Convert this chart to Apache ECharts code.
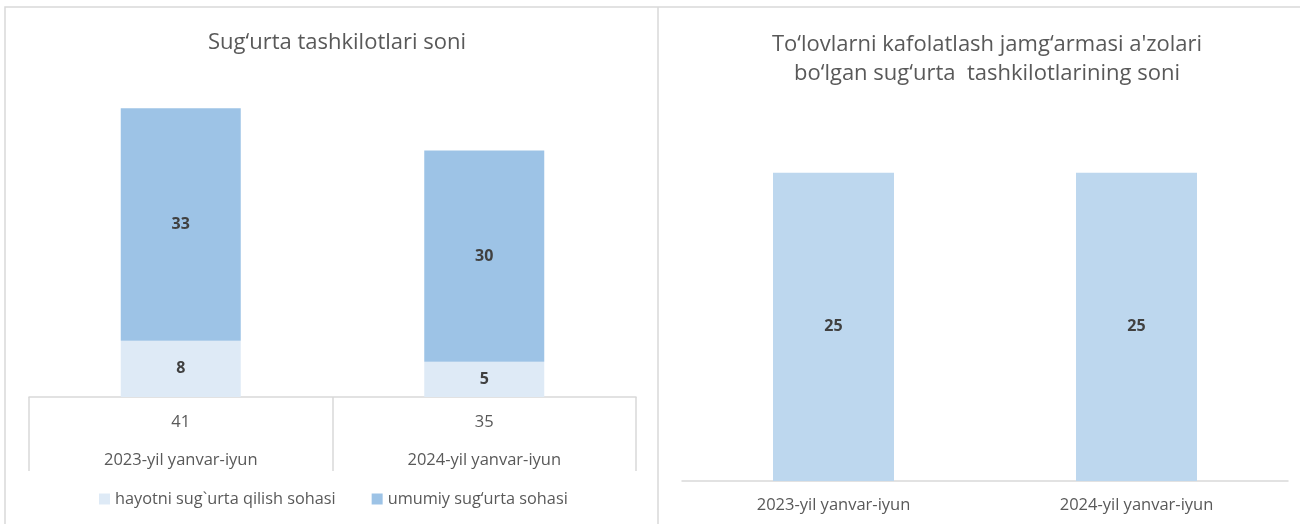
<!DOCTYPE html>
<html>
<head>
<meta charset="utf-8">
<script src="https://cdn.jsdelivr.net/npm/echarts@6/dist/echarts.min.js"></script>
<style>
html,body{margin:0;padding:0;background:#fff;}
#main{width:1301px;height:524px;}
</style>
</head>
<body>
<div id="main"></div>
<script>
const categories = ['2023-yil yanvar-iyun', '2024-yil yanvar-iyun'];
const lifeName = 'hayotni sug`urta qilish sohasi';
const generalName = 'umumiy sug‘urta sohasi';
const lifeValues = [8, 5];
const generalValues = [33, 30];
const fundMembers = [25, 25];
const title1 = 'Sug‘urta tashkilotlari soni';
const title2 = 'To‘lovlarni kafolatlash jamg‘armasi a\'zolari\nbo‘lgan sug‘urta  tashkilotlarining soni';

const totals = categories.map((c, i) => lifeValues[i] + generalValues[i]);
const FONT = 'Open Sans';
const TXT = '#595959';
const BORDER = '#d9d9d9';

const chart = echarts.init(document.getElementById('main'));
chart.setOption({
  animation: false,
  textStyle: { fontFamily: FONT },
  title: [
    { text: title1, left: 332, top: 27, textAlign: 'center',
      textStyle: { fontFamily: FONT, fontSize: 22, fontWeight: 'normal', color: TXT } },
    { text: title2, left: 982, top: 25, textAlign: 'center',
      textStyle: { fontFamily: FONT, fontSize: 22, fontWeight: 'normal', color: TXT, lineHeight: 29 } }
  ],
  legend: {
    data: [lifeName, generalName],
    left: 99, top: 491, padding: 0,
    icon: 'rect', itemWidth: 11, itemHeight: 11, itemGap: 36,
    textStyle: { fontFamily: FONT, fontSize: 16.3, color: TXT }
  },
  grid: [
    { left: 29, right: 665, top: 80, height: 317 },
    { left: 682, right: 13, top: 111, height: 370 }
  ],
  xAxis: [
    { type: 'category', gridIndex: 0, data: categories,
      axisLine: { show: true, lineStyle: { color: BORDER, width: 1.5 } },
      axisTick: { show: true, length: 74, lineStyle: { color: BORDER, width: 1.5 } },
      axisLabel: {
        margin: 6,
        formatter: (v, i) => '{t|' + totals[i] + '}\n{c|' + v + '}',
        rich: {
          t: { fontFamily: FONT, fontSize: 16.5, color: TXT, lineHeight: 38 },
          c: { fontFamily: FONT, fontSize: 16.5, color: TXT, lineHeight: 38 }
        }
      }
    },
    { type: 'category', gridIndex: 1, data: categories,
      axisLine: { show: true, lineStyle: { color: BORDER, width: 1.5 } },
      axisTick: { show: false },
      axisLabel: { margin: 16, fontFamily: FONT, fontSize: 16.5, color: TXT }
    }
  ],
  yAxis: [
    { type: 'value', gridIndex: 0, min: 0, max: 45, show: false, splitLine: { show: false } },
    { type: 'value', gridIndex: 1, min: 0, max: 30, show: false, splitLine: { show: false } }
  ],
  series: [
    { name: lifeName, type: 'bar', stack: 'a', xAxisIndex: 0, yAxisIndex: 0,
      data: lifeValues, barWidth: 120, itemStyle: { color: '#DEEAF6' },
      label: { show: true, position: 'inside', fontFamily: FONT, fontSize: 16, fontWeight: 'bold', color: '#404040' } },
    { name: generalName, type: 'bar', stack: 'a', xAxisIndex: 0, yAxisIndex: 0,
      data: generalValues, barWidth: 120, itemStyle: { color: '#9DC3E6' },
      label: { show: true, position: 'inside', fontFamily: FONT, fontSize: 16, fontWeight: 'bold', color: '#404040' } },
    { name: 'fund', type: 'bar', xAxisIndex: 1, yAxisIndex: 1,
      data: fundMembers, barWidth: 121, itemStyle: { color: '#BDD7EE' },
      label: { show: true, position: 'inside', fontFamily: FONT, fontSize: 16, fontWeight: 'bold', color: '#404040' } }
  ],
  graphic: [
    { type: 'polyline', silent: true, shape: { points: [[5, 530], [5, 7], [1300, 7]] },
      style: { stroke: BORDER, lineWidth: 1.5, fill: null } },
    { type: 'line', silent: true, shape: { x1: 658, y1: 7, x2: 658, y2: 530 },
      style: { stroke: BORDER, lineWidth: 1.5 } }
  ]
});
</script>
</body>
</html>
